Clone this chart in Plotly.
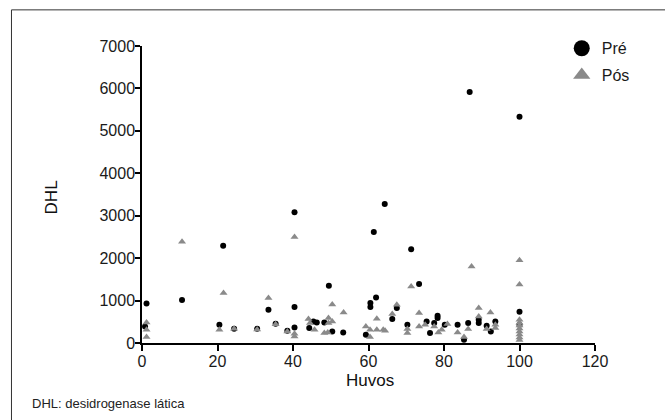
import plotly.graph_objects as go

# Pré (black circles)
pre_x = [1.2, 0.8, 10.6, 21.5, 20.5, 24.4, 30.5, 33.5, 35.4, 38.5, 40.4, 40.4, 40.4,
         44.3, 45.4, 46.3, 48.3, 49.5, 50.4, 53.3, 59.3, 60.5, 60.5, 61.4, 62.0, 64.3,
         66.3, 67.5, 70.3, 71.3, 73.4, 75.4, 76.3, 77.4, 78.3, 78.3, 80.2, 83.6, 85.3,
         86.4, 86.8, 89.2, 89.2, 91.3, 92.4, 93.6, 100.0, 100.0, 100.0]
pre_y = [932, 390, 1012, 2290, 430, 336, 336, 784, 454, 290, 3082, 850, 367,
         353, 508, 485, 485, 1350, 273, 250, 195, 941, 847, 2619, 1075, 3278,
         565, 823, 430, 2212, 1388, 508, 235, 470, 642, 588, 430, 430, 78,
         470, 5913, 548, 470, 407, 273, 508, 5332, 736, 430]

# Pós (grey triangles)
pos_x = [1.2, 1.2, 1.2, 10.6, 20.5, 21.6, 24.4, 30.5, 33.5, 35.4, 38.5, 40.4, 40.4,
         40.4, 44.1, 44.5, 45.7, 48.3, 49.4, 49.4, 49.2, 50.4, 50.4, 53.4, 59.3, 60.4,
         60.4, 62.2, 62.2, 63.9, 64.4, 66.3, 67.5, 70.3, 70.3, 71.3, 73.4, 73.4, 75.0,
         77.4, 78.5, 79.4, 80.9, 83.6, 85.3, 86.4, 87.3, 89.2, 89.2, 92.3, 91.3, 93.6,
         93.6, 100.0, 100.0, 100.0, 100.0, 100.0, 100.0, 100.0, 100.0, 100.0, 100.0]
pos_y = [485, 313, 141, 2384, 313, 1176, 336, 320, 1058, 440, 273, 2500, 219,
         155, 565, 470, 313, 235, 588, 470, 250, 908, 508, 720, 391, 313,
         141, 572, 313, 313, 289, 682, 901, 235, 330, 1332, 705, 391, 430,
         391, 250, 313, 450, 250, 141, 329, 1803, 823, 626, 720, 329, 430,
         353, 1953, 1379, 550, 480, 410, 340, 270, 200, 130, 70]

x_ticks = [0, 20, 40, 60, 80, 100, 120]
y_ticks = [0, 1000, 2000, 3000, 4000, 5000, 6000, 7000]

FONT = "Liberation Sans"
GREY = "#8a8a8a"

fig = go.Figure()
fig.add_trace(go.Scatter(x=pre_x, y=pre_y, mode="markers", name="Pré", showlegend=False,
                         marker=dict(symbol="circle", size=6, color="black"),
                         cliponaxis=False))
fig.add_trace(go.Scatter(x=pos_x, y=pos_y, mode="markers", name="Pós", showlegend=False,
                         marker=dict(symbol="triangle-up", size=7, color=GREY),
                         cliponaxis=False))
# legend entries with larger symbols
fig.add_trace(go.Scatter(x=[None], y=[None], mode="markers", name="Pré", legendgroup="a",
                         marker=dict(symbol="circle", size=16, color="black")))
fig.add_trace(go.Scatter(x=[None], y=[None], mode="markers", name="Pós", legendgroup="b",
                         marker=dict(symbol="triangle-up", size=15, color=GREY)))

L, R, T, B = 141.7, 595.3, 45.7, 343.3
W, H = 665, 420
pw, ph = R - L, B - T

def px_x(p):
    return (p - L) / pw

def px_y(p):
    return (B - p) / ph

fig.update_layout(
    width=W, height=H,
    margin=dict(l=L, r=W - R, t=T, b=H - B, pad=0),
    paper_bgcolor="white", plot_bgcolor="white",
    font=dict(family=FONT, size=16, color="#1a1a1a"),
    legend=dict(x=px_x(562), y=px_y(31), xanchor="left", yanchor="top",
                font=dict(size=16, color="#1a1a1a"), traceorder="grouped",
                tracegroupgap=3, bgcolor="rgba(0,0,0,0)", itemwidth=30),
    xaxis=dict(range=[0, 120], tickvals=x_ticks, ticktext=[str(v) for v in x_ticks],
               showgrid=False, zeroline=False, showline=True, linecolor="black",
               linewidth=1.5, ticks="outside", ticklen=6, tickcolor="black", tickwidth=1.5,
               ticklabelstandoff=-3,
               tickfont=dict(size=16, color="#1a1a1a")),
    yaxis=dict(range=[0, 7000], tickvals=y_ticks, ticktext=[str(v) for v in y_ticks],
               showgrid=False, zeroline=False, showline=True, linecolor="black",
               linewidth=1.5, ticks="outside", ticklen=5, tickcolor="black", tickwidth=1.5,
               ticklabelstandoff=-3,
               tickfont=dict(size=16, color="#1a1a1a")),
    showlegend=True,
)

fig.add_annotation(text="DHL", xref="paper", yref="paper", x=px_x(52), y=px_y(197),
                   textangle=-90, showarrow=False, font=dict(size=17, color="#111"),
                   xanchor="center", yanchor="middle")
fig.add_annotation(text="Huvos", xref="paper", yref="paper", x=px_x(370), y=px_y(381),
                   showarrow=False, font=dict(size=17, color="#111"),
                   xanchor="center", yanchor="middle")
fig.add_annotation(text="DHL: desidrogenase lática", xref="paper", yref="paper",
                   x=px_x(30), y=px_y(404), showarrow=False,
                   font=dict(size=13, color="#222"), xanchor="left", yanchor="middle")

# frame around the figure (left and top edges visible)
fig.add_shape(type="rect", xref="paper", yref="paper",
              x0=px_x(11), x1=px_x(700), y0=px_y(460), y1=px_y(9.5),
              line=dict(color="#333", width=1), fillcolor="rgba(0,0,0,0)", layer="below")

fig.write_html("out.html", config={"displayModeBar": False},
               post_script="document.body.style.margin='0';")
